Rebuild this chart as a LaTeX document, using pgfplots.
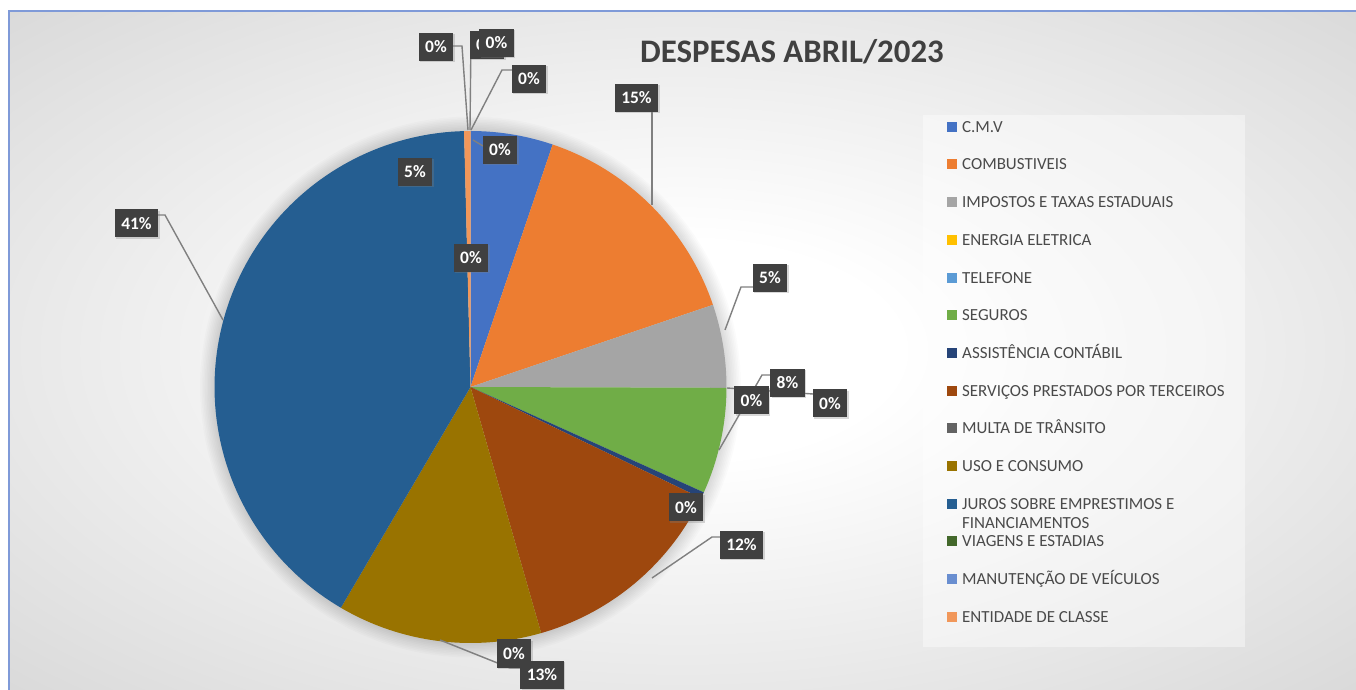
\documentclass[border=0pt]{standalone}
\usepackage{fontspec}
\setmainfont{Carlito}
\usepackage{pgfplots}
\usepackage{pgfplotstable}
\pgfplotsset{compat=1.18}
\usetikzlibrary{shadows}

\definecolor{cA}{HTML}{4472C4}
\definecolor{cB}{HTML}{ED7D31}
\definecolor{cC}{HTML}{A5A5A5}
\definecolor{cD}{HTML}{FFC000}
\definecolor{cE}{HTML}{5B9BD5}
\definecolor{cF}{HTML}{70AD47}
\definecolor{cG}{HTML}{264478}
\definecolor{cH}{HTML}{9E480E}
\definecolor{cI}{HTML}{636363}
\definecolor{cJ}{HTML}{997300}
\definecolor{cK}{HTML}{255E91}
\definecolor{cL}{HTML}{43682B}
\definecolor{cM}{HTML}{698ED0}
\definecolor{cN}{HTML}{F1975A}
\definecolor{bgedge}{HTML}{C6C6C6}
\definecolor{frame}{HTML}{7F9AD8}
\definecolor{lbl}{HTML}{404040}
\definecolor{legtext}{HTML}{4A4A4A}
\definecolor{leader}{HTML}{808080}

\pgfdeclareradialshading{bgshade}{\pgfpoint{0bp}{0bp}}{color(0bp)=(white); color(8bp)=(white); color(50bp)=(bgedge)}

% share of each expense, in percent of the total (clockwise from 12 o'clock)
\pgfplotstableread[col sep=comma]{
value,col
5.2,cA
14.6,cB
5.25,cC
0,cD
0,cE
6.7,cF
0.4,cG
13.4,cH
0,cI
12.9,cJ
41.15,cK
0,cL
0,cM
0.4,cN
}\pietable

\tikzset{
  dlabel/.style={fill=lbl, text=white, font=\fontsize{17.5}{20}\selectfont\bfseries,
    inner xsep=6.5bp, inner ysep=0bp, minimum height=28bp,
    drop shadow={opacity=0.3, shadow xshift=1.5bp, shadow yshift=-1.5bp}},
  lead/.style={draw=leader, line width=1.4bp}
}

\begin{document}
\begin{tikzpicture}
\begin{scope}[x=1bp,y=1bp]
  \fill[white] (0,0) rectangle (1356,690);
  \path[shading=bgshade] (9,0) rectangle (1356,679);
  \draw[frame, line width=2bp] (9,0) -- (9,679) -- (1356,679);
  \foreach \k in {1,...,9}{\fill[black, opacity=0.014] (470.5,303) circle ({256+\k*1.6});}
  \fill[white, opacity=0.4] (923,43) rectangle (1245,575);
\end{scope}
\begin{axis}[
  width=1356bp, height=690bp, scale only axis,
  xmin=0, xmax=1356, ymin=0, ymax=690,
  hide axis, clip=false,
  legend style={at={(axis cs:947,569)}, anchor=north west, draw=none, fill=none,
    inner sep=0pt, row sep=23.2bp, column sep=5bp,
    font=\fontsize{17}{19.5}\selectfont, text=legtext,
    nodes={inner sep=0pt, text height=11bp, text depth=3.5bp, anchor=base west}},
  legend cell align=left,
  legend image code/.code={\fill[#1] (0bp,0.5bp) rectangle (10bp,10.5bp);},
  legend entries={C.M.V, COMBUSTIVEIS, IMPOSTOS E TAXAS ESTADUAIS, ENERGIA ELETRICA,
    TELEFONE, SEGUROS, ASSISTÊNCIA CONTÁBIL, SERVIÇOS PRESTADOS POR TERCEIROS,
    MULTA DE TRÂNSITO, USO E CONSUMO,
    {\smash{\begin{tabular}[t]{@{}l@{}}JUROS SOBRE EMPRESTIMOS E\\FINANCIAMENTOS\end{tabular}}},
    VIAGENS E ESTADIAS, MANUTENÇÃO DE VEÍCULOS, ENTIDADE DE CLASSE},
]
\gdef\cum{0}
\pgfplotsinvokeforeach{0,...,13}{%
  \pgfplotstablegetelem{#1}{value}\of\pietable
  \let\val\pgfplotsretval
  \pgfplotstablegetelem{#1}{col}\of\pietable
  \let\clr\pgfplotsretval
  \pgfmathsetmacro\sa{\cum}%
  \pgfmathsetmacro\sb{\cum+\val}%
  \xdef\cum{\sb}%
  \ifdim\val pt>0pt
    \edef\doit{\noexpand\addplot[draw=none, fill=\clr, domain=\sa:\sb, samples=100] ({470.5+256*cos(90-3.6*x)},{303+256*sin(90-3.6*x)}) -- (axis cs:470.5,303) -- cycle;}%
    \doit
  \else
    \edef\doit{\noexpand\addlegendimage{fill=\clr, draw=none}}%
    \doit
  \fi
}

% leader lines
\draw[lead] (axis cs:158,475) -- (axis cs:165,475) -- (axis cs:223,370);
\draw[lead] (axis cs:652,578) -- (axis cs:652,485);
\draw[lead] (axis cs:754,403) -- (axis cs:741,403) -- (axis cs:725,360);
\draw[lead] (axis cs:771,315) -- (axis cs:762,315) -- (axis cs:719,240);
\draw[lead] (axis cs:727,302) -- (axis cs:813,296);
\draw[lead] (axis cs:720,153) -- (axis cs:712,153) -- (axis cs:652,112);
\draw[lead] (axis cs:521,22) -- (axis cs:510,22) -- (axis cs:440,50);
\draw[lead] (axis cs:453,644) -- (axis cs:462,644) -- (axis cs:468,560);
\draw[lead] (axis cs:471,654) -- (axis cs:470,560);
\draw[lead] (axis cs:512,620) -- (axis cs:502,620) -- (axis cs:471,560);
\draw[lead] (axis cs:483,544) -- (axis cs:473,550);

% data labels
\node[dlabel] at (axis cs:436,643) {0\%};
\node[dlabel] at (axis cs:487,645) {0\%};
\node[dlabel] at (axis cs:496.5,647) {0\%};
\node[dlabel] at (axis cs:529,611) {0\%};
\node[dlabel] at (axis cs:500,540) {0\%};
\node[dlabel] at (axis cs:415,518) {5\%};
\node[dlabel] at (axis cs:471,432) {0\%};
\node[dlabel] at (axis cs:636.5,592) {15\%};
\node[dlabel] at (axis cs:136.5,466.5) {41\%};
\node[dlabel] at (axis cs:770,412) {5\%};
\node[dlabel] at (axis cs:751.5,289.5) {0\%};
\node[dlabel] at (axis cs:787.5,307) {8\%};
\node[dlabel] at (axis cs:830,286.5) {0\%};
\node[dlabel] at (axis cs:686,182.5) {0\%};
\node[dlabel] at (axis cs:741.5,145) {12\%};
\node[dlabel] at (axis cs:514,36.5) {0\%};
\node[dlabel] at (axis cs:542,15) {13\%};

% title
\node[font=\fontsize{33}{38}\selectfont\bfseries, text=lbl] at (axis cs:792,638) {DESPESAS ABRIL/2023};
\end{axis}
\pgfresetboundingbox
\useasboundingbox (0,0) rectangle (1356bp,690bp);
\end{tikzpicture}
\end{document}
